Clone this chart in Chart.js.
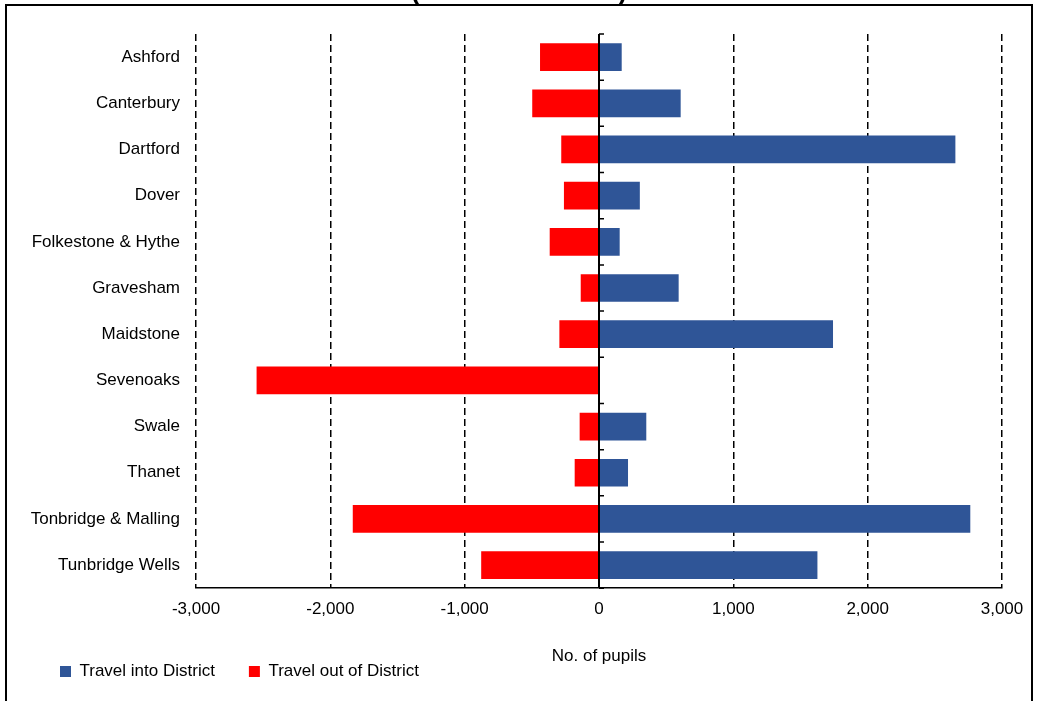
<!DOCTYPE html>
<html>
<head>
<meta charset="utf-8">
<script src="https://cdn.jsdelivr.net/npm/chart.js@4/dist/chart.umd.min.js"></script>
<style>
  html, body { margin: 0; padding: 0; background: #fff; }
  #wrap { width: 1037px; height: 701px; }
</style>
</head>
<body>
<div id="wrap"><canvas id="chart"></canvas></div>
<script>
// districts, top to bottom
const districts = ['Ashford', 'Canterbury', 'Dartford', 'Dover', 'Folkestone & Hythe', 'Gravesham',
  'Maidstone', 'Sevenoaks', 'Swale', 'Thanet', 'Tonbridge & Malling', 'Tunbridge Wells'];
// pupils travelling into the district
const travelInto = [169, 608, 2653, 304, 154, 593, 1742, 0, 352, 216, 2764, 1626];
// pupils travelling out of the district (shown negative)
const travelOut = [-439, -497, -281, -261, -367, -136, -295, -2549, -144, -181, -1833, -877];
const xTickValues = [-3000, -2000, -1000, 0, 1000, 2000, 3000];

const FONT = "'Liberation Sans', Arial, sans-serif";
Chart.defaults.font.family = FONT;
Chart.defaults.font.size = 17;
Chart.defaults.color = '#000';

// outer frame plus the clipped title brackets at the very top
const framePlugin = {
  id: 'frame',
  beforeDraw(chart) {
    const ctx = chart.ctx;
    ctx.save();
    ctx.fillStyle = '#fff';
    ctx.fillRect(0, 0, chart.width, chart.height);
    ctx.strokeStyle = '#000';
    ctx.lineWidth = 2;
    ctx.strokeRect(6, 5, 1026, 760);
    ctx.fillStyle = '#000';
    ctx.font = "bold 26px " + FONT;
    ctx.textBaseline = 'alphabetic';
    ctx.textAlign = 'left';
    ctx.fillText('(', 411, 0);
    ctx.textAlign = 'right';
    ctx.fillText(')', 627, 0);
    ctx.restore();
  }
};

// little tick marks on the zero axis between categories
const zeroTicks = {
  id: 'zeroTicks',
  afterLayout(chart) {
    // legend starts further in than the long district labels
    chart.legend.left = 26;
  },
  afterDatasetsDraw(chart) {
    const {ctx, scales: {x, y}} = chart;
    const x0 = x.getPixelForValue(0);
    ctx.save();
    ctx.strokeStyle = '#000';
    ctx.lineWidth = 1.5;
    ctx.beginPath();
    for (let i = 0; i <= districts.length; i++) {
      const py = y.getPixelForValue(i - 0.5);
      ctx.moveTo(x0, py);
      ctx.lineTo(x0 + 5, py);
    }
    ctx.stroke();
    ctx.restore();
  }
};

new Chart(document.getElementById('chart'), {
  type: 'bar',
  data: {
    labels: districts,
    datasets: [{
      label: 'Travel into District',
      data: travelInto,
      backgroundColor: '#2F5597',
      barPercentage: 0.6,
      categoryPercentage: 1
    }, {
      label: 'Travel out of District',
      data: travelOut,
      backgroundColor: '#FF0000',
      barPercentage: 0.6,
      categoryPercentage: 1
    }]
  },
  options: {
    indexAxis: 'y',
    responsive: true,
    maintainAspectRatio: false,
    animation: false,
    layout: { padding: { top: 34, left: 14, right: 35, bottom: 11 } },
    scales: {
      x: {
        stacked: true,
        min: -3000,
        max: 3000,
        afterBuildTicks: s => { s.ticks = xTickValues.map(v => ({ value: v })); },
        ticks: {
          padding: 11,
          callback: v => v.toLocaleString('en-US')
        },
        grid: {
          color: '#000',
          lineWidth: c => (c.tick && c.tick.value === 0 ? 2 : 1.5),
          drawTicks: false
        },
        border: {
          display: true,
          color: '#000',
          width: 1.5,
          dash: c => (c.tick && c.tick.value === 0 ? [] : [7, 4])
        },
        title: {
          display: true,
          text: 'No. of pupils',
          padding: { top: 16, bottom: -38 }
        }
      },
      y: {
        stacked: true,
        afterFit: s => { s.width = 182; },
        ticks: { padding: 16 },
        grid: { display: false, drawTicks: false },
        border: { display: false }
      }
    },
    plugins: {
      legend: {
        position: 'bottom',
        align: 'start',
        labels: { boxWidth: 11, boxHeight: 11, padding: 34 }
      },
      tooltip: { enabled: false }
    }
  },
  plugins: [framePlugin, zeroTicks]
});
</script>
</body>
</html>
